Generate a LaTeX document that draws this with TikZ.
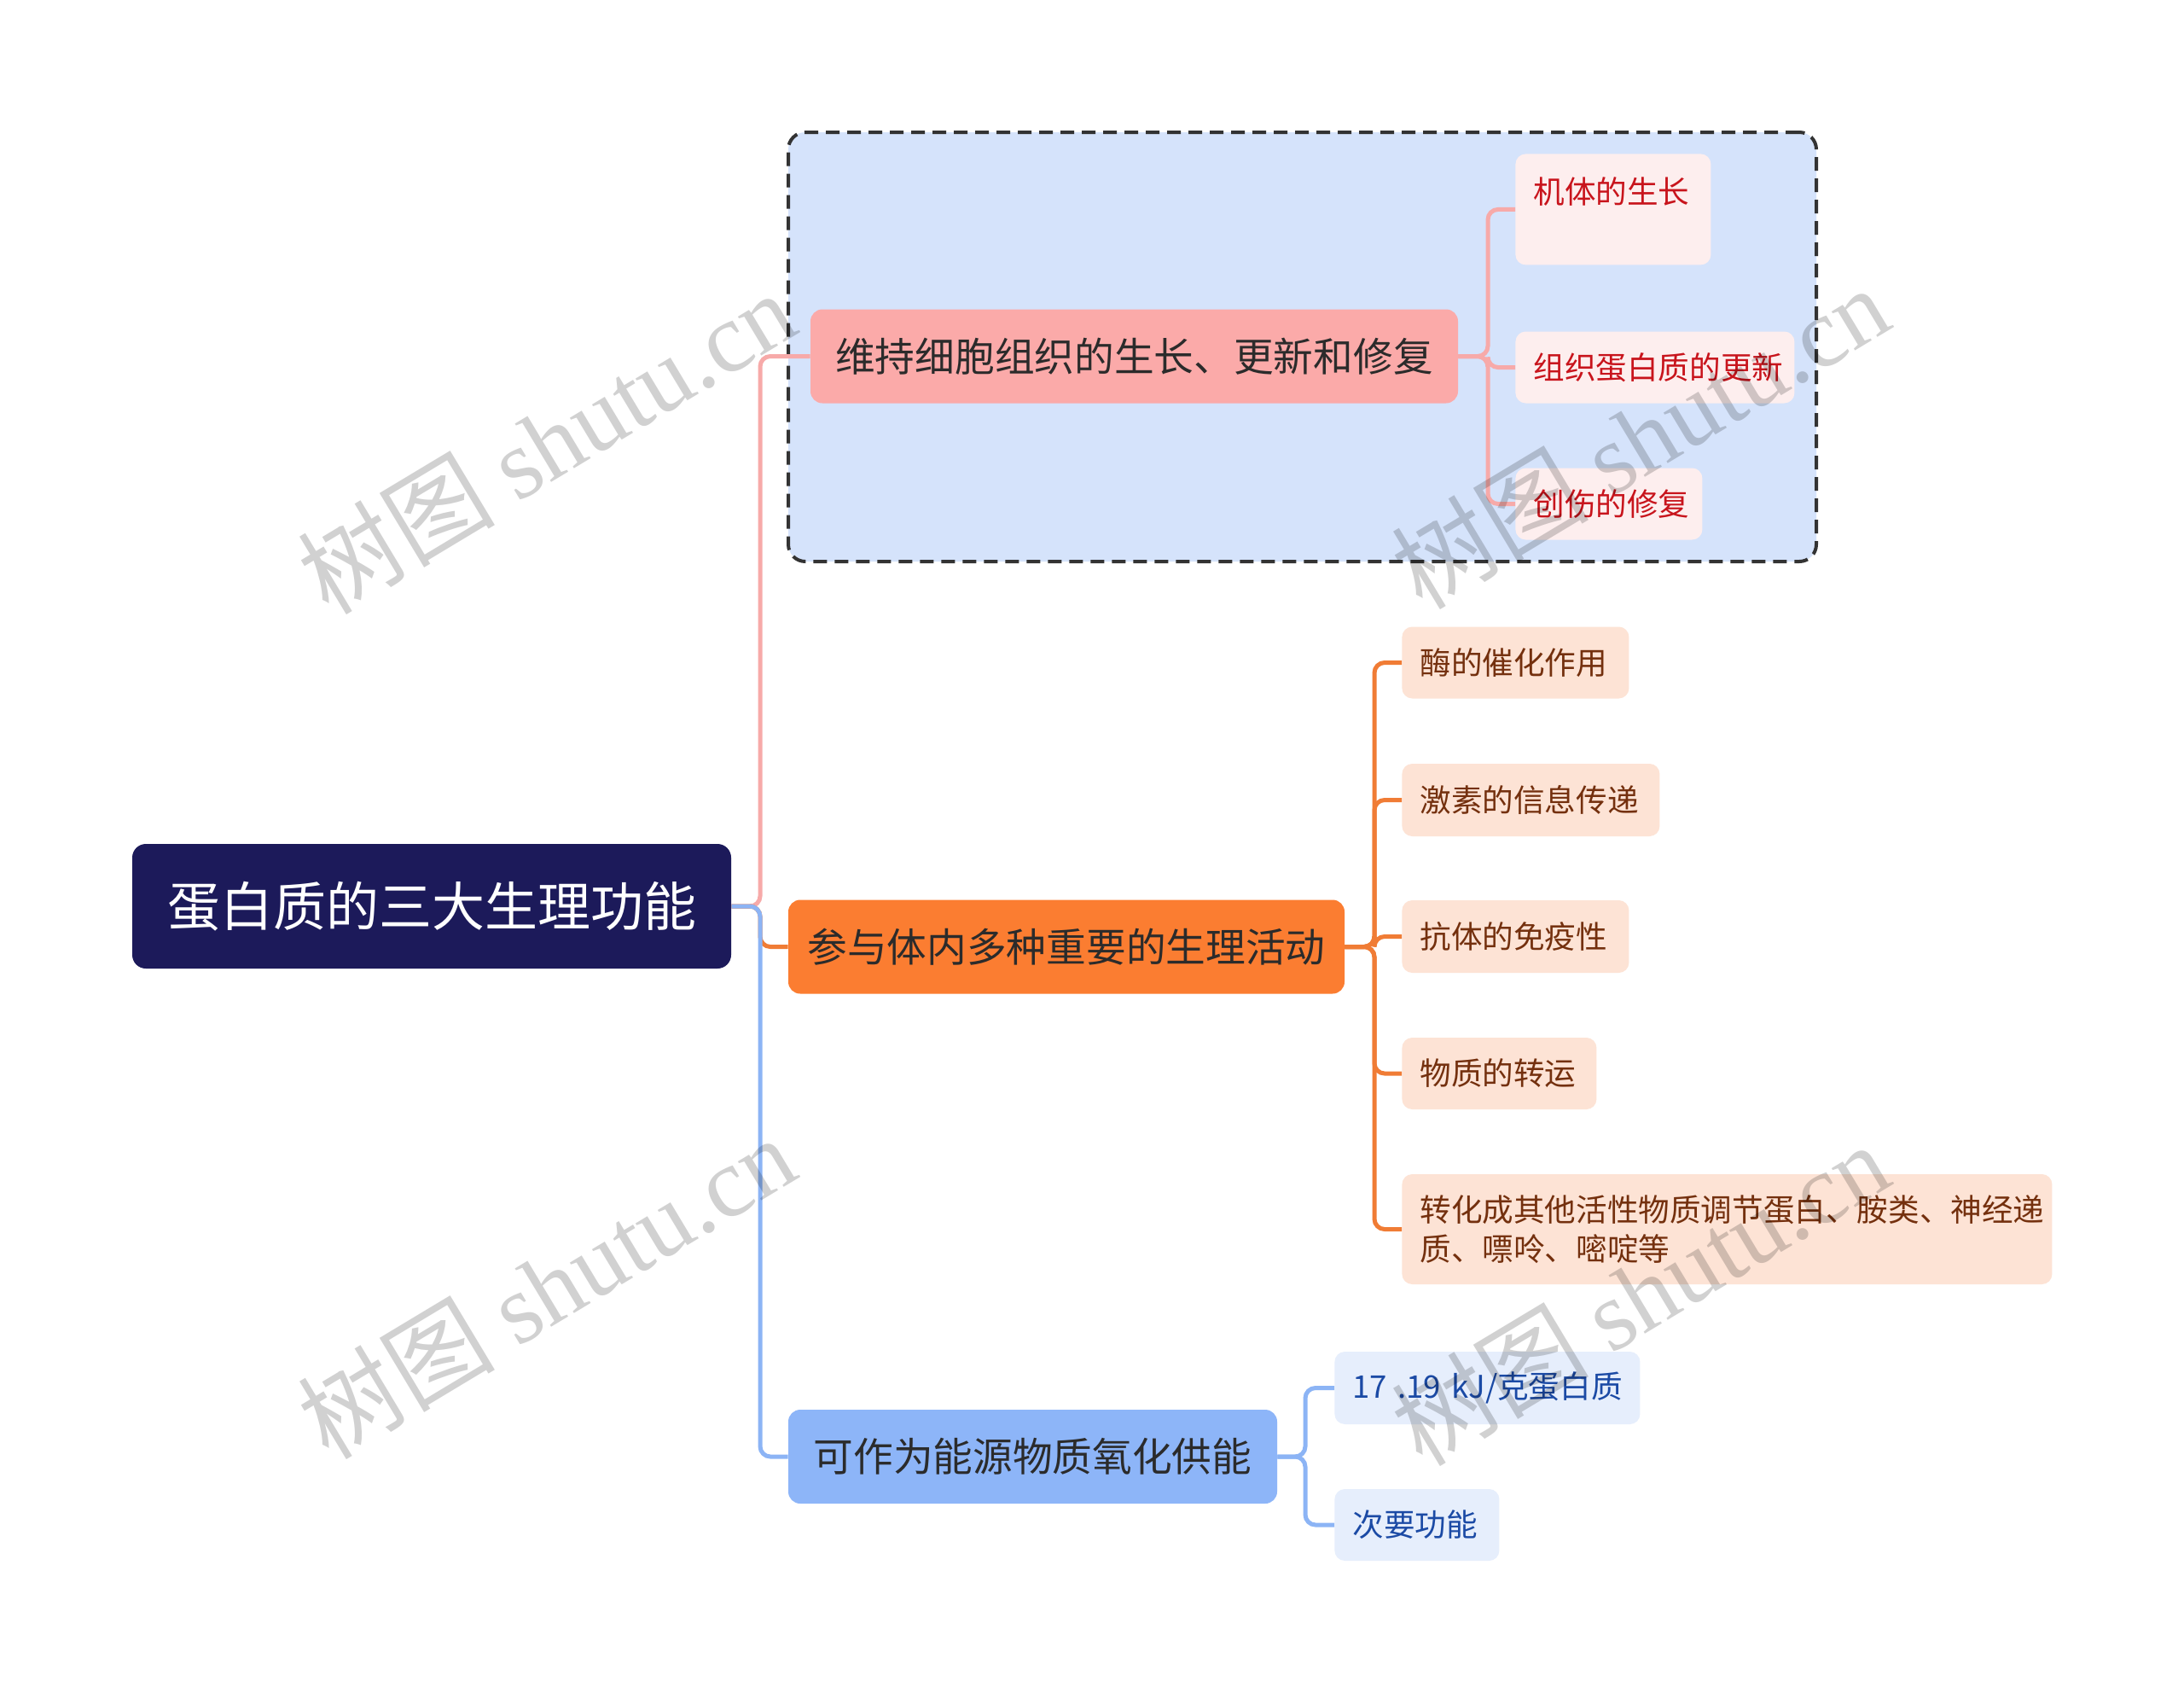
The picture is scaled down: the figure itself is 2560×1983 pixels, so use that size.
\documentclass[tikz,border=0pt]{standalone}
\usepackage{fontspec}
\setmainfont{Noto Sans CJK SC}
\newfontfamily\cjk{Noto Sans CJK SC}
\newfontfamily\wmserif{Liberation Serif}
\definecolor{rootc}{HTML}{1C1A5A}
\definecolor{bonec}{HTML}{FBAAA9}
\definecolor{boxc}{HTML}{D5E3FB}
\definecolor{conefill}{HTML}{FDEEEE}
\definecolor{conetext}{HTML}{C8141C}
\definecolor{btwoc}{HTML}{FB7D31}
\definecolor{ctwofill}{HTML}{FDE3D5}
\definecolor{ctwotext}{HTML}{74300E}
\definecolor{bthreec}{HTML}{8DB5F8}
\definecolor{cthreefill}{HTML}{E6EEFC}
\definecolor{cthreetext}{HTML}{1B4AA5}
\definecolor{lpinkc}{HTML}{F7AAA9}
\definecolor{lorangec}{HTML}{F07C35}
\definecolor{lbluec}{HTML}{8CB4F5}
\definecolor{btext}{HTML}{2B2B2B}
\definecolor{dashc}{HTML}{333333}
\tikzset{
  rootbox/.style={fill=rootc, rounded corners=8pt, text=white, inner sep=0pt,
    minimum width=351pt, minimum height=73pt, font=\fontsize{31}{37}\selectfont},
  branchbox/.style={rounded corners=7pt, text=btext, inner sep=0pt,
    minimum height=55pt, font=\fontsize{23.35}{28}\selectfont},
  subbox/.style={rounded corners=6pt, inner xsep=10.5pt, inner ysep=0pt,
    minimum height=42pt, align=left, anchor=west, font=\fontsize{18.3}{22.85}\selectfont},
  subone/.style={subbox, fill=conefill, text=conetext},
  subtwo/.style={subbox, fill=ctwofill, text=ctwotext},
  subthree/.style={subbox, fill=cthreefill, text=cthreetext},
  conn/.style={line width=2.5pt, rounded corners=6pt},
  lpink/.style={conn, draw=lpinkc},
  lorange/.style={conn, draw=lorangec},
  lblue/.style={conn, draw=lbluec},
  wmark/.style={text=black, text opacity=0.18, rotate=31, inner sep=0pt},
  groupbox/.style={draw=dashc, line width=2pt, dash pattern=on 8pt off 4.5pt,
    fill=boxc, rounded corners=10pt, inner sep=0pt}
}
\begin{document}
\begin{tikzpicture}[x=0.5pt, y=-0.5pt]
\fill[white] (0,0) rectangle (2560,1983);
\useasboundingbox (0,0) rectangle (2560,1983);

% group box
\node[groupbox, minimum width=602.5pt, minimum height=251.5pt] (grp) at (1526.5,406.5) {};

% root and branches
\node[rootbox] (root) at (506,1062) {蛋白质的三大生理功能};
\node[branchbox, fill=bonec, minimum width=379.5pt] (b1) at (1329.5,417.5) {维持细胞组织的生长、更新和修复};
\node[branchbox, fill=btwoc, minimum width=326pt] (b2) at (1250,1109.5) {参与体内多种重要的生理活动};
\node[branchbox, fill=bthreec, minimum width=286.5pt] (b3) at (1210.5,1707) {可作为能源物质氧化供能};

% children of branch 1
\node[subone, anchor=north west, text width=93.5pt, text height=29pt, text depth=36pt] (c11) at (1776,180) {机体的生长};
\node[subone, text width=142.5pt] (c12) at (1776,430.5) {组织蛋白质的更新};
\node[subone, text width=88.5pt] (c13) at (1776,590.5) {创伤的修复};

% children of branch 2
\node[subtwo, text width=112pt] (c21) at (1643,776.5) {酶的催化作用};
\node[subtwo, text width=130pt, minimum height=42.5pt] (c22) at (1643,937.5) {激素的信息传递};
\node[subtwo, text width=112pt, minimum height=42.5pt] (c23) at (1643,1097.5) {抗体的免疫性};
\node[subtwo, text width=93pt] (c24) at (1643,1258) {物质的转运};
\node[subtwo, text width=360pt, minimum height=64.5pt] (c25) at (1643,1440.5) {转化成其他活性物质调节蛋白、胺类、神经递\\质、嘌呤、嘧啶等};

% children of branch 3
\node[subthree, text width=158pt, minimum height=42.5pt] (c31) at (1564,1626.5) {\mbox{17 .19 kJ/克蛋白质}};
\node[subthree, text width=75.5pt] (c32) at (1564,1787) {次要功能};

% connectors root -> branches
\coordinate (rj) at (891,1062);
\draw[lpink] (root.east) -- (rj) |- (b1.west);
\draw[lorange] (root.east) -- (rj) |- (b2.west);
\draw[lblue] (root.east) -- (rj) |- (b3.west);

% branch 1 -> children
\coordinate (j1) at (1744,417.5);
\draw[lpink] (b1.east) -- (j1) |- (c11.west);
\draw[lpink] (b1.east) -- (j1) |- (c12.west);
\draw[lpink] (b1.east) -- (j1) |- (c13.west);

% branch 2 -> children
\coordinate (j2) at (1611,1109.5);
\draw[lorange] (b2.east) -- (j2) |- (c21.west);
\draw[lorange] (b2.east) -- (j2) |- (c22.west);
\draw[lorange] (b2.east) -- (j2) |- (c23.west);
\draw[lorange] (b2.east) -- (j2) |- (c24.west);
\draw[lorange] (b2.east) -- (j2) |- (c25.west);

% branch 3 -> children
\coordinate (j3) at (1530,1707);
\draw[lblue] (b3.east) -- (j3) |- (c31.west);
\draw[lblue] (b3.east) -- (j3) |- (c32.west);

% watermarks
\node[wmark] (wm1) at (640,518) {\fontsize{58}{58}\selectfont\cjk 树图 \wmserif shutu.cn};
\node[wmark] (wm2) at (640,1508) {\fontsize{58}{58}\selectfont\cjk 树图 \wmserif shutu.cn};
\node[wmark] (wm3) at (1922,512) {\fontsize{58}{58}\selectfont\cjk 树图 \wmserif shutu.cn};
\node[wmark] (wm4) at (1922,1516) {\fontsize{58}{58}\selectfont\cjk 树图 \wmserif shutu.cn};
\end{tikzpicture}
\end{document}
